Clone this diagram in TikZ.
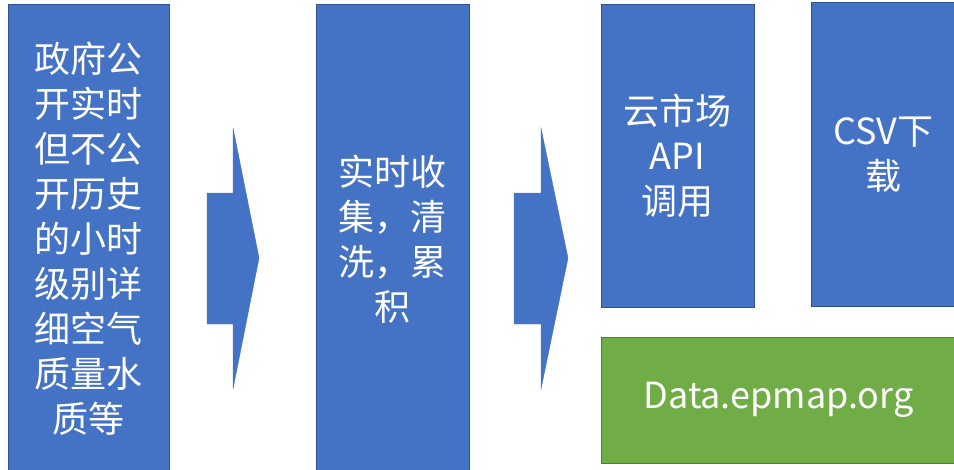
\documentclass[tikz,border=0pt]{standalone}
\usepackage{fontspec}
\setmainfont{Noto Sans CJK SC}
\definecolor{bfill}{HTML}{4472C4}
\definecolor{bline}{HTML}{2F528F}
\definecolor{gfill}{HTML}{70AD47}
\definecolor{gline}{HTML}{507E32}
\tikzset{
  bbox/.style={draw=bline, fill=bfill, line width=0.8pt, text=white, align=center, inner sep=0pt,
    font=\fontsize{36}{45}\selectfont},
  gbox/.style={draw=gline, fill=gfill, line width=0.8pt, text=white, align=center, inner sep=0pt,
    font=\fontsize{36}{45}\selectfont},
  barrow/.style={fill=bfill, draw=bfill, line width=0.4pt}
}
\begin{document}
\begin{tikzpicture}[x=1pt,y=-1pt]
\useasboundingbox (0,0) rectangle (954,469);
\node[bbox, minimum width=161pt, minimum height=470pt] (src) at (88.5,239) {政府公\\开实时\\但不公\\开历史\\的小时\\级别详\\细空气\\质量水\\质等};
\node[bbox, minimum width=153pt, minimum height=470pt] (mid) at (392.5,239) {实时收\\集，清\\洗，累\\积};
\node[bbox, minimum width=153pt, minimum height=303pt] (api) at (677.5,155.5) {云市场\\API\\调用};
\node[bbox, minimum width=145pt, minimum height=304pt] (csv) at (883.5,154.5) {CSV下\\载};
\node[gbox, minimum width=355pt, minimum height=126pt] (web) at (778.5,400) {Data.epmap.org};
\fill[barrow] (207,193) -- (233,193) -- (233,128) -- (259,258) -- (233,389) -- (233,324) -- (207,324) -- cycle;
\fill[barrow] (514,193) -- (541,193) -- (541,128) -- (568,258) -- (541,389) -- (541,324) -- (514,324) -- cycle;
\end{tikzpicture}
\end{document}
